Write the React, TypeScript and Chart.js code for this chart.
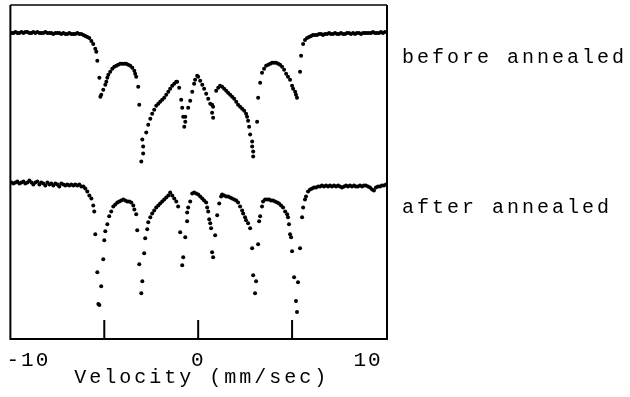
import { useEffect, useRef } from "react";
import { Chart, registerables } from "chart.js";

Chart.register(...registerables);

// x tick labels of the velocity axis (mm/sec)
const xTickValues = [-10, 0, 10];
// short marker ticks drawn inside the frame, on the bottom edge (mm/sec)
const innerTickValues = [-5.53, 0, 5.53];
const seriesLabels = ["before annealed", "after annealed"];
const axisTitle = "Velocity (mm/sec)";

// "before annealed" spectrum: velocity (mm/sec) and relative counts
const beforeVelocity = [
  -11.0, -10.88, -10.76, -10.65, -10.53, -10.41, -10.29, -10.18, -10.06, -9.94,
  -9.82, -9.71, -9.59, -9.47, -9.35, -9.24, -9.12, -9.0, -8.88, -8.76,
  -8.65, -8.53, -8.41, -8.29, -8.18, -8.06, -7.94, -7.82, -7.71, -7.59,
  -7.47, -7.35, -7.24, -7.12, -7.0, -6.88, -6.76, -6.65, -6.53, -6.41,
  -6.29, -6.18, -6.06, -6.0, -5.94, -5.82, -5.71, -5.76, -5.59, -5.47,
  -5.41, -5.35, -5.29, -5.18, -5.06, -4.94, -4.82, -4.71, -4.59, -4.47,
  -4.35, -4.24, -4.12, -4.0, -3.88, -3.76, -3.71, -3.65, -3.53, -3.47,
  -3.29, -3.24, -3.24, -3.35, -3.06, -2.94, -2.82, -2.71, -2.59, -2.47,
  -2.35, -2.24, -2.12, -2.0, -1.88, -1.76, -1.65, -1.53, -1.41, -1.29,
  -1.24, -1.12, -1.0, -0.94, -0.88, -0.76, -0.76, -0.82, -0.59, -0.47,
  -0.35, -0.24, -0.18, -0.06, 0.0, 0.12, 0.24, 0.35, 0.47, 0.59,
  0.71, 0.82, 0.88, 0.82, 0.88, 1.06, 1.18, 1.29, 1.41, 1.53,
  1.65, 1.76, 1.88, 2.0, 2.12, 2.24, 2.35, 2.47, 2.59, 2.71,
  2.82, 2.88, 2.94, 3.0, 3.06, 3.18, 3.18, 3.24, 3.24, 3.47,
  3.53, 3.65, 3.76, 3.88, 4.0, 4.12, 4.24, 4.35, 4.47, 4.59,
  4.71, 4.82, 4.94, 5.06, 5.18, 5.29, 5.41, 5.53, 5.59, 5.71,
  5.76, 5.82, 6.0, 6.06, 6.18, 6.29, 6.41, 6.53, 6.65, 6.76,
  6.88, 7.0, 7.12, 7.24, 7.35, 7.47, 7.59, 7.71, 7.82, 7.94,
  8.06, 8.18, 8.29, 8.41, 8.53, 8.65, 8.76, 8.88, 9.0, 9.12,
  9.24, 9.35, 9.47, 9.59, 9.71, 9.82, 9.94, 10.06, 10.18, 10.29,
  10.41, 10.53, 10.65, 10.76, 10.88, 11.0,
];
const beforeCounts = [
  307, 307, 308, 307, 307, 308, 307, 308, 308, 307,
  307, 308, 307, 308, 307, 307, 307, 308, 307, 307,
  307, 306, 307, 307, 307, 306, 307, 306, 306, 307,
  306, 306, 306, 307, 306, 306, 305, 304, 303, 302,
  299, 296, 291, 288, 279, 262, 245, 243, 250, 255,
  258, 262, 265, 268, 271, 273, 274, 275, 276, 276,
  276, 276, 275, 274, 272, 269, 266, 263, 253, 235,
  200, 193, 186, 178, 207, 215, 221, 226, 230, 234,
  236, 238, 240, 242, 245, 248, 251, 254, 256, 258,
  258, 252, 240, 232, 223, 223, 218, 213, 232, 239,
  248, 256, 260, 264, 263, 259, 255, 251, 246, 241,
  236, 235, 233, 227, 222, 249, 252, 254, 253, 251,
  249, 247, 245, 243, 241, 238, 235, 233, 231, 229,
  226, 223, 219, 213, 205, 198, 193, 188, 183, 218,
  242, 257, 267, 271, 274, 275, 276, 277, 277, 277,
  276, 275, 273, 270, 266, 263, 260, 254, 251, 248,
  245, 242, 268, 284, 296, 300, 302, 303, 304, 305,
  305, 305, 306, 306, 305, 306, 306, 307, 306, 306,
  307, 306, 306, 307, 306, 306, 307, 307, 306, 307,
  306, 307, 307, 306, 307, 307, 307, 307, 307, 308,
  307, 307, 307, 308, 307, 308,
];

// "after annealed" spectrum: velocity (mm/sec) and relative counts
const afterVelocity = [
  -11.0, -10.88, -10.76, -10.65, -10.53, -10.41, -10.29, -10.18, -10.06, -9.94,
  -9.82, -9.71, -9.59, -9.47, -9.35, -9.24, -9.12, -9.0, -8.88, -8.76,
  -8.65, -8.53, -8.41, -8.29, -8.18, -8.06, -7.94, -7.82, -7.71, -7.59,
  -7.47, -7.35, -7.24, -7.12, -7.0, -6.88, -6.76, -6.65, -6.53, -6.41,
  -6.29, -6.18, -6.12, -6.06, -5.94, -5.88, -5.82, -5.71, -5.59, -5.53,
  -5.47, -5.35, -5.24, -5.12, -5.0, -4.88, -4.76, -4.65, -4.53, -4.41,
  -4.29, -4.18, -4.06, -3.94, -3.82, -3.76, -3.65, -3.59, -3.47, -3.35,
  -3.29, -3.18, -3.12, -3.0, -2.94, -2.82, -2.71, -2.59, -2.47, -2.35,
  -2.24, -2.12, -2.0, -1.88, -1.76, -1.65, -1.53, -1.41, -1.29, -1.18,
  -1.06, -0.94, -0.88, -0.76, -0.65, -0.65, -0.59, -0.47, -0.35, -0.24,
  -0.12, 0.0, 0.12, 0.24, 0.35, 0.47, 0.53, 0.59, 0.65, 0.71,
  0.76, 0.82, 0.88, 1.0, 1.12, 1.24, 1.35, 1.41, 1.53, 1.65,
  1.76, 1.88, 2.0, 2.12, 2.24, 2.35, 2.47, 2.59, 2.65, 2.76,
  2.82, 2.94, 3.06, 3.18, 3.24, 3.35, 3.41, 3.53, 3.59, 3.65,
  3.76, 3.82, 3.94, 4.06, 4.18, 4.29, 4.41, 4.53, 4.65, 4.76,
  4.88, 5.0, 5.12, 5.24, 5.29, 5.35, 5.41, 5.47, 5.53, 5.65,
  5.76, 5.82, 5.88, 6.0, 6.12, 6.18, 6.29, 6.35, 6.47, 6.59,
  6.71, 6.82, 6.94, 7.06, 7.18, 7.29, 7.41, 7.53, 7.65, 7.76,
  7.88, 8.0, 8.12, 8.24, 8.35, 8.47, 8.59, 8.71, 8.82, 8.94,
  9.06, 9.18, 9.29, 9.41, 9.53, 9.65, 9.76, 9.88, 10.0, 10.12,
  10.24, 10.35, 10.47, 10.59, 10.71, 10.82, 10.94, 11.06,
];
const afterCounts = [
  157, 156, 157, 158, 156, 157, 158, 156, 157, 159,
  157, 155, 157, 158, 155, 157, 156, 154, 157, 155,
  156, 154, 156, 155, 153, 156, 155, 154, 155, 154,
  155, 154, 155, 154, 155, 153, 153, 151, 148, 144,
  141, 134, 128, 105, 67, 35, 34, 53, 80, 99,
  108, 115, 123, 128, 133, 135, 137, 138, 139, 140,
  139, 138, 138, 137, 134, 130, 125, 109, 75, 46,
  58, 86, 101, 110, 117, 122, 126, 129, 132, 134,
  136, 138, 140, 142, 144, 147, 144, 141, 138, 133,
  107, 74, 82, 102, 118, 127, 132, 138, 146, 147,
  146, 145, 143, 141, 139, 137, 132, 128, 120, 116,
  111, 87, 82, 104, 124, 136, 143, 145, 144, 143,
  143, 142, 141, 140, 139, 137, 133, 129, 126, 122,
  119, 116, 111, 91, 64, 46, 58, 95, 118, 123,
  133, 138, 140, 140, 140, 139, 139, 138, 137, 136,
  134, 132, 128, 125, 122, 115, 105, 102, 88, 62,
  38, 27, 57, 91, 122, 132, 140, 143, 148, 150,
  151, 152, 152, 153, 153, 154, 153, 154, 153, 154,
  153, 154, 153, 154, 153, 152, 153, 154, 153, 154,
  153, 154, 153, 153, 154, 153, 154, 154, 153, 152,
  150, 149, 152, 153, 153, 154, 154, 155,
];

const toPoints = (xs: number[], ys: number[]) =>
  xs.map((x, i) => ({ x, y: ys[i] }));

export default function App() {
  const canvasRef = useRef<HTMLCanvasElement>(null);

  useEffect(() => {
    const canvas = canvasRef.current;
    if (!canvas) return;

    const framePlugin = {
      id: "frameAndLabels",
      beforeDraw(chart: any) {
        chart.ctx.letterSpacing = "2px";
      },
      afterDraw(chart: any) {
        const { ctx, chartArea: a, scales } = chart;
        ctx.save();
        ctx.strokeStyle = "#000";
        ctx.lineWidth = 2;
        ctx.beginPath();
        ctx.moveTo(a.left, a.top);
        ctx.lineTo(a.left, a.bottom);
        ctx.lineTo(a.right, a.bottom);
        ctx.lineTo(a.right, a.top);
        ctx.stroke();
        ctx.lineWidth = 1.3;
        ctx.beginPath();
        ctx.moveTo(a.left, a.top);
        ctx.lineTo(a.right, a.top);
        ctx.stroke();

        ctx.lineWidth = 2;
        for (const v of innerTickValues) {
          const px = scales.x.getPixelForValue(v);
          ctx.beginPath();
          ctx.moveTo(px, a.bottom);
          ctx.lineTo(px, a.bottom - 19);
          ctx.stroke();
        }

        ctx.fillStyle = "#000";
        ctx.font = '20px "Liberation Mono", monospace';
        ctx.letterSpacing = "3px";
        ctx.textAlign = "left";
        ctx.textBaseline = "alphabetic";
        ctx.fillText(seriesLabels[0], a.right + 15, a.top + 58);
        ctx.fillText(seriesLabels[1], a.right + 15, a.top + 208);
        ctx.textAlign = "center";
        ctx.fillText(axisTitle, (a.left + a.right) / 2 + 3, a.bottom + 44);
        ctx.letterSpacing = "0px";
        ctx.restore();
      },
    };

    const pointStyle = {
      showLine: false,
      pointRadius: 2,
      pointBorderWidth: 0,
      pointBackgroundColor: "#000",
      pointBorderColor: "#000",
    };

    const chart = new Chart(canvas, {
      type: "scatter",
      data: {
        datasets: [
          { label: seriesLabels[0], data: toPoints(beforeVelocity, beforeCounts), ...pointStyle },
          { label: seriesLabels[1], data: toPoints(afterVelocity, afterCounts), ...pointStyle },
        ],
      },
      options: {
        responsive: false,
        animation: false,
        devicePixelRatio: 1,
        layout: { padding: { left: 10, top: 5, right: 243, bottom: 0 } },
        plugins: {
          legend: { display: false },
          tooltip: { enabled: false },
        },
        scales: {
          x: {
            type: "linear",
            min: -11.06,
            max: 11.12,
            afterBuildTicks: (s: any) => {
              s.ticks = xTickValues.map((v) => ({ value: v }));
            },
            afterFit: (s: any) => {
              s.height = 58;
            },
            grid: { display: false, drawTicks: false },
            border: { display: false },
            ticks: {
              color: "#000",
              font: { family: "'Liberation Mono', monospace", size: 21 },
              padding: 9,
              maxRotation: 0,
              autoSkip: false,
              callback: (v: any) => String(v),
            },
          },
          y: { display: false, min: 0, max: 335 },
        },
      },
      plugins: [framePlugin],
    });

    return () => chart.destroy();
  }, []);

  return (
    <div style={{ position: "absolute", left: 0, top: 0, width: 630, height: 397, background: "#fff" }}>
      <canvas ref={canvasRef} width={630} height={397} style={{ display: "block" }} />
    </div>
  );
}
